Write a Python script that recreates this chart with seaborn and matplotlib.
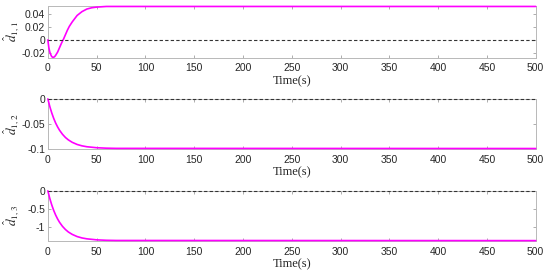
import numpy as np
import pandas as pd
import seaborn as sns
import matplotlib
matplotlib.use("Agg")
import matplotlib.pyplot as plt

# values
t1 = [0, 1, 2, 3, 4, 5, 6, 7, 8, 10, 12, 14, 16, 18, 20, 22, 25, 28, 30, 35, 40, 45, 50, 60, 70, 500]
d11 = [0, -0.012, -0.019, -0.023, -0.026, -0.027, -0.027, -0.026, -0.024, -0.019, -0.012, -0.005,
       0.001, 0.008, 0.015, 0.021, 0.028, 0.034, 0.038, 0.044, 0.048, 0.050, 0.051, 0.052, 0.052, 0.052]

t23 = [0, 2, 4, 6, 8, 10, 12, 15, 18, 21, 25, 30, 35, 40, 50, 60, 70, 500]
d12 = [0, -0.0154, -0.0283, -0.0393, -0.0487, -0.0565, -0.0632, -0.0713, -0.0777, -0.0826,
       -0.0875, -0.0918, -0.0946, -0.0964, -0.0984, -0.0993, -0.0997, -0.1]
d13 = [0, -0.209, -0.385, -0.535, -0.662, -0.769, -0.86, -0.97, -1.056, -1.124,
       -1.19, -1.249, -1.287, -1.311, -1.339, -1.351, -1.356, -1.36]

ylabels = [r"$\hat{d}_{1,1}$", r"$\hat{d}_{1,2}$", r"$\hat{d}_{1,3}$"]
yticks = [[-0.02, 0, 0.02, 0.04], [-0.1, -0.05, 0], [-1, -0.5, 0]]
yticklabels = [["-0.02", "0", "0.02", "0.04"], ["-0.1", "-0.05", "0"], ["-1", "-0.5", "0"]]
ylims = [(-0.028, 0.053), (-0.101, 0.0), (-1.37, 0.0)]
xticks = list(range(0, 501, 50))

sns.set_theme(style="white")
plt.rcParams['font.family'] = ['Liberation Sans', 'DejaVu Sans']
plt.rcParams['mathtext.fontset'] = 'stix'
plt.rcParams['xtick.direction'] = 'in'
plt.rcParams['ytick.direction'] = 'in'

fig = plt.figure(figsize=(5.5, 2.77), dpi=100)
boxes = [(0.087, 0.791, 0.887, 0.188), (0.087, 0.462, 0.887, 0.181), (0.087, 0.130, 0.887, 0.181)]

data = [(t1, d11), (t23, d12), (t23, d13)]
for i, (tt, dd) in enumerate(data):
    ax = fig.add_axes(boxes[i])
    df = pd.DataFrame({"t": tt, "d": dd})
    ax.axhline(0, color="#333333", ls=(0, (3, 2)), lw=0.8, zorder=5, clip_on=False)
    sns.lineplot(data=df, x="t", y="d", ax=ax, color="#ff00ff", lw=1.2, zorder=4, clip_on=False)
    ax.set_xlim(0, 500)
    ax.set_ylim(*ylims[i])
    ax.set_xticks(xticks)
    ax.set_xticklabels([str(x) for x in xticks], fontsize=7.5, color="#262626")
    ax.set_yticks(yticks[i])
    ax.set_yticklabels(yticklabels[i], fontsize=7.5, color="#262626")
    ax.tick_params(axis="both", length=2.5, width=0.6, color="#a0a0a0",
                   top=True, right=True, bottom=True, left=True)
    ax.tick_params(axis="x", pad=4)
    ax.tick_params(axis="y", pad=2)
    for s in ax.spines.values():
        s.set_color("#b8b8b8")
        s.set_linewidth(0.7)
    ax.set_xlabel("Time(s)", fontsize=9, family="Liberation Serif", labelpad=1)
    ax.set_ylabel(ylabels[i], fontsize=9.5)
    ax.yaxis.set_label_coords(-0.052, 0.5)

fig.savefig("out.png", dpi=100)
